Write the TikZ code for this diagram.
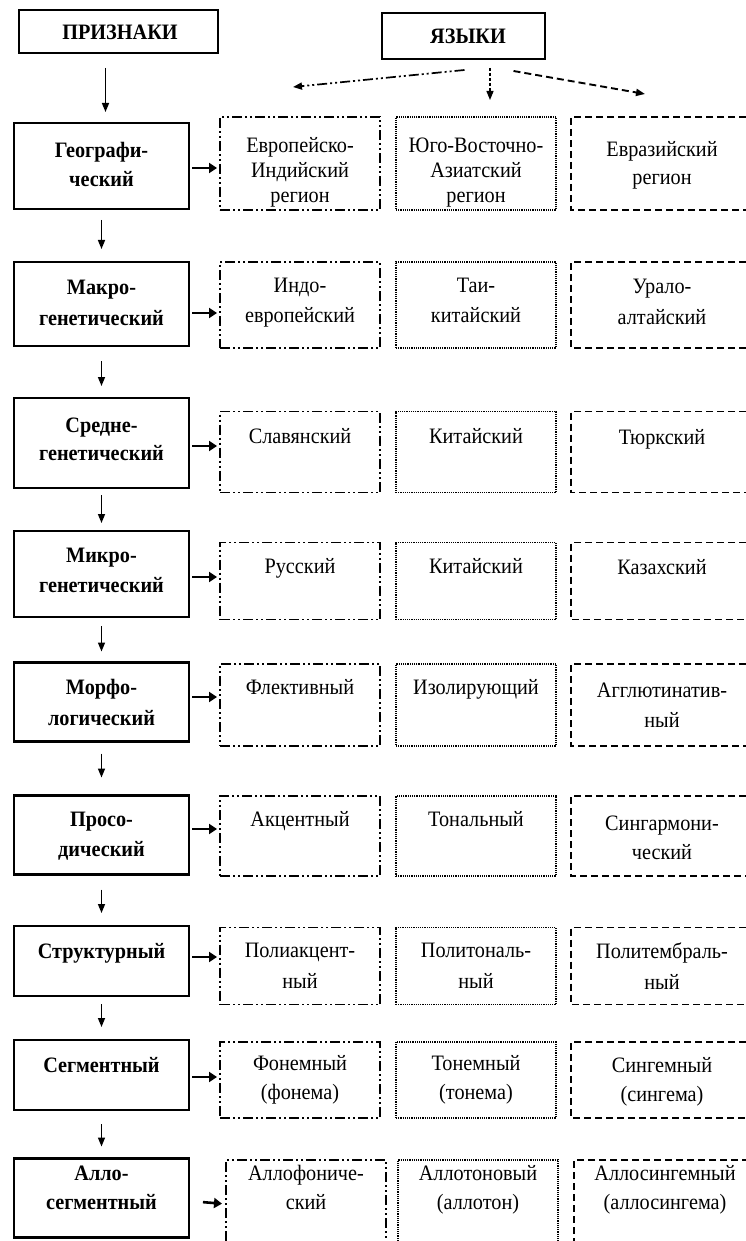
\documentclass[tikz,border=0pt]{standalone}
\usepackage{fontspec}
\setmainfont{Liberation Serif}[FakeStretch=0.92]
\usetikzlibrary{arrows.meta}
\newcommand{\fl}{\rule{0pt}{16pt}}
\begin{document}
\begin{tikzpicture}[x=1pt,y=-1pt,
  hbox/.style={draw, line width=2.6pt, inner sep=0pt, outer sep=0pt},
  lbox/.style={draw, line width=2.6pt, minimum width=175pt, inner sep=0pt, outer sep=0pt},
  cbox/.style={inner sep=0pt, outer sep=0pt, minimum width=160pt},
  cthree/.style={inner sep=0pt, outer sep=0pt, minimum width=175pt},
  lineA/.style={line width=1.7pt, dash pattern=on 10pt off 3pt on 2pt off 3pt on 2pt off 3pt},
  lineB/.style={line width=1.4pt, dash pattern=on 1.2pt off 1pt},
  lineC/.style={line width=1.9pt, dash pattern=on 7pt off 4pt},
  txt/.style={font=\fontsize{22}{#1}\selectfont, align=center, inner sep=0pt, anchor=north},
  txt/.default=29,
  btxt/.style={txt=#1, font=\fontsize{22}{#1}\selectfont\bfseries},
  btxt/.default=29,
  harrow/.style={line width=2.6pt, -{Triangle[length=8pt,width=10pt]}},
  varrow/.style={line width=1.5pt, -{Triangle[length=9pt,width=7pt]}},
  tarrow/.style={-{Triangle[length=9pt,width=7pt]}},
]
\useasboundingbox (0,0) rectangle (746,1241);

% headers
\node[hbox, minimum width=199pt, minimum height=43pt] (P) at (118.5,31.5) {};
\node[btxt] (Pt) at (120,23) {\fl ПРИЗНАКИ};
\node[hbox, minimum width=163pt, minimum height=46pt] (Y) at (463.5,36) {};
\node[btxt] (Yt) at (468,27) {\fl ЯЗЫКИ};

\coordinate (ta) at (293,87);
\coordinate (tb) at (490,100);
\coordinate (tc) at (645,94);
\draw[tarrow, lineA] ([xshift=1pt,yshift=-11pt]Y.south) -- (ta);
\draw[tarrow, line width=1.2pt, dash pattern=on 3pt off 2pt] ([xshift=26.5pt,yshift=-9pt]Y.south) -- (tb);
\draw[tarrow, lineC] ([xshift=50pt,yshift=-12pt]Y.south) -- (tc);

% left boxes
\node[lbox, minimum height=86pt] (L1) at (101.5,166) {};
\node[lbox, minimum height=84pt] (L2) at (101.5,304) {};
\node[lbox, minimum height=90pt] (L3) at (101.5,443) {};
\node[lbox, minimum height=86pt] (L4) at (101.5,574) {};
\node[lbox, minimum height=79pt] (L5) at (101.5,702) {};
\node[lbox, minimum height=79pt] (L6) at (101.5,835) {};
\node[lbox, minimum height=70pt] (L7) at (101.5,961) {};
\node[lbox, minimum height=70pt] (L8) at (101.5,1075) {};
\node[lbox, minimum height=79pt] (L9) at (101.5,1198) {};

\node[btxt=29] (tL1) at (101.5,141) {\fl Географи-\\ческий};
\node[btxt=31] (tL2) at (101.5,278) {\fl Макро-\\генетический};
\node[btxt=28] (tL3) at (101.5,416) {\fl Средне-\\генетический};
\node[btxt=30] (tL4) at (101.5,546) {\fl Микро-\\генетический};
\node[btxt=31] (tL5) at (101.5,678) {\fl Морфо-\\логический};
\node[btxt=30] (tL6) at (101.5,810) {\fl Просо-\\дический};
\node[btxt] (tL7) at (101.5,942) {\fl Структурный};
\node[btxt] (tL8) at (101.5,1056) {\fl Сегментный};
\node[btxt=29] (tL9) at (101.5,1164) {\fl Алло-\\сегментный};

% vertical arrows
\draw[varrow, shorten <=15pt, shorten >=11pt] ([xshift=-13pt]P.south) -- ([xshift=4pt]L1.north);
\draw[varrow, shorten <=11pt, shorten >=13pt] (L1.south) -- (L2.north);
\draw[varrow, shorten <=15pt, shorten >=12pt] (L2.south) -- (L3.north);
\draw[varrow, shorten <=7pt, shorten >=8pt] (L3.south) -- (L4.north);
\draw[varrow, shorten <=9pt, shorten >=11pt] (L4.south) -- (L5.north);
\draw[varrow, shorten <=12pt, shorten >=18pt] (L5.south) -- (L6.north);
\draw[varrow, shorten <=15pt, shorten >=13pt] (L6.south) -- (L7.north);
\draw[varrow, shorten <=8pt, shorten >=13pt] (L7.south) -- (L8.north);
\draw[varrow, shorten <=14pt, shorten >=12pt] (L8.south) -- (L9.north);

% column 1 boxes
\node[cbox, draw, lineA, minimum height=93pt] (A1) at (300,163.5) {};
\node[cbox, draw, lineA, minimum height=86pt] (A2) at (300,305) {};
\node[cbox, draw, lineA, minimum height=81pt] (A3) at (300,452) {};
\node[cbox, draw, lineA, minimum height=77pt] (A4) at (300,581) {};
\node[cbox, draw, lineA, minimum height=82pt] (A5) at (300,705) {};
\node[cbox, draw, lineA, minimum height=80pt] (A6) at (300,836) {};
\node[cbox, draw, lineA, minimum height=77pt] (A7) at (300,966) {};
\node[cbox, draw, lineA, minimum height=76pt] (A8) at (300,1080) {};
\node[cbox, minimum height=81pt] (A9) at (306,1200.5) {};
\draw[lineA] (A9.south west) -- (A9.north west) -- (A9.north east) -- (A9.south east);

% column 2 boxes
\node[cbox, draw, lineB, minimum height=93pt] (B1) at (476,163.5) {};
\node[cbox, draw, lineB, minimum height=86pt] (B2) at (476,305) {};
\node[cbox, draw, lineB, minimum height=81pt] (B3) at (476,452) {};
\node[cbox, draw, lineB, minimum height=77pt] (B4) at (476,581) {};
\node[cbox, draw, lineB, minimum height=82pt] (B5) at (476,705) {};
\node[cbox, draw, lineB, minimum height=80pt] (B6) at (476,836) {};
\node[cbox, draw, lineB, minimum height=77pt] (B7) at (476,966) {};
\node[cbox, draw, lineB, minimum height=76pt] (B8) at (476,1080) {};
\node[cbox, minimum height=81pt] (B9) at (478,1200.5) {};
\draw[lineB] (B9.south west) -- (B9.north west) -- (B9.north east) -- (B9.south east);

% column 3 boxes (open to the right)
\node[cthree, minimum height=93pt] (C1) at (658.5,163.5) {};
\node[cthree, minimum height=86pt] (C2) at (658.5,305) {};
\node[cthree, minimum height=81pt] (C3) at (658.5,452) {};
\node[cthree, minimum height=77pt] (C4) at (658.5,581) {};
\node[cthree, minimum height=82pt] (C5) at (658.5,705) {};
\node[cthree, minimum height=80pt] (C6) at (658.5,836) {};
\node[cthree, minimum height=77pt] (C7) at (658.5,966) {};
\node[cthree, minimum height=76pt] (C8) at (658.5,1080) {};
\node[cthree, minimum height=81pt] (C9) at (661.5,1200.5) {};
\foreach \n in {C1,C2,C3,C4,C5,C6,C7,C8}
  \draw[lineC] (\n.north east) -- (\n.north west) -- (\n.south west) -- (\n.south east);
\draw[lineC] (C9.north east) -- (C9.north west) -- (C9.south west);

% horizontal arrows
\draw[harrow, shorten <=3pt, shorten >=3pt] ([yshift=-2pt]L1.east) -- ([yshift=-4.5pt]A1.west);
\draw[harrow, shorten <=3pt, shorten >=3pt] ([yshift=-9pt]L2.east) -- ([yshift=-8pt]A2.west);
\draw[harrow, shorten <=3pt, shorten >=3pt] ([yshift=-3pt]L3.east) -- ([yshift=6pt]A3.west);
\draw[harrow, shorten <=3pt, shorten >=3pt] ([yshift=-3pt]L4.east) -- ([yshift=4pt]A4.west);
\draw[harrow, shorten <=3pt, shorten >=3pt] ([yshift=5pt]L5.east) -- ([yshift=8pt]A5.west);
\draw[harrow, shorten <=3pt, shorten >=3pt] ([yshift=6pt]L6.east) -- ([yshift=7pt]A6.west);
\draw[harrow, shorten <=3pt, shorten >=3pt] ([yshift=4pt]L7.east) -- ([yshift=9pt]A7.west);
\draw[harrow, shorten <=3pt, shorten >=3pt] ([yshift=-2pt]L8.east) -- ([yshift=3pt]A8.west);
\draw[harrow, shorten <=14pt, shorten >=4pt] ([yshift=-3pt]L9.east) -- ([yshift=-3.5pt]A9.west);

% column texts
\node[txt=25] (tA1) at (300,136) {\fl Европейско-\\Индийский\\регион};
\node[txt=25] (tB1) at (476,136) {\fl Юго-Восточно-\\Азиатский\\регион};
\node[txt=28] (tC1) at (662,140) {\fl Евразийский\\регион};
\node[txt=30] (tA2) at (300,276) {\fl Индо-\\европейский};
\node[txt=30] (tB2) at (476,276) {\fl Таи-\\китайский};
\node[txt=31] (tC2) at (662,277) {\fl Урало-\\алтайский};
\node[txt] (tA3) at (300,427) {\fl Славянский};
\node[txt] (tB3) at (476,427) {\fl Китайский};
\node[txt] (tC3) at (662,428) {\fl Тюркский};
\node[txt] (tA4) at (300,557) {\fl Русский};
\node[txt] (tB4) at (476,557) {\fl Китайский};
\node[txt] (tC4) at (662,558) {\fl Казахский};
\node[txt] (tA5) at (300,678) {\fl Флективный};
\node[txt] (tB5) at (476,678) {\fl Изолирующий};
\node[txt=30] (tC5) at (662,681) {\fl Агглютинатив-\\ный};
\node[txt] (tA6) at (300,810) {\fl Акцентный};
\node[txt] (tB6) at (476,810) {\fl Тональный};
\node[txt=29] (tC6) at (662,814) {\fl Сингармони-\\ческий};
\node[txt=31] (tA7) at (300,941) {\fl Полиакцент-\\ный};
\node[txt=31] (tB7) at (476,941) {\fl Политональ-\\ный};
\node[txt=31] (tC7) at (662,942) {\fl Политембраль-\\ный};
\node[txt=29] (tA8) at (300,1054) {\fl Фонемный\\(фонема)};
\node[txt=29] (tB8) at (476,1054) {\fl Тонемный\\(тонема)};
\node[txt=29] (tC8) at (662,1056) {\fl Сингемный\\(сингема)};
\node[txt=29] (tA9) at (306,1164) {\fl Аллофониче-\\ский};
\node[txt=29] (tB9) at (478,1164) {\fl Аллотоновый\\(аллотон)};
\node[txt=29] (tC9) at (665,1164) {\fl Аллосингемный\\(аллосингема)};
\end{tikzpicture}
\end{document}
